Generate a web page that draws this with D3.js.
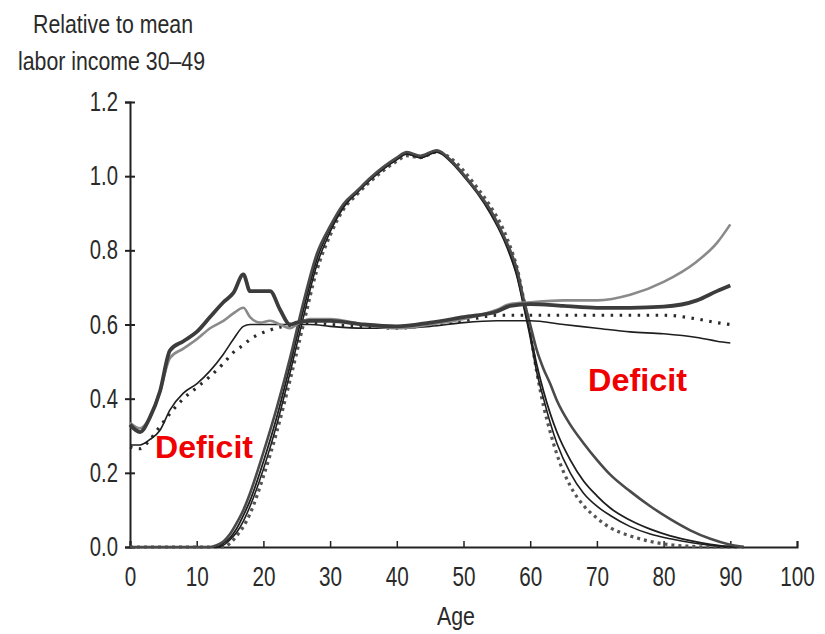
<!DOCTYPE html>
<html>
<head>
<meta charset="utf-8">
<script src="https://cdn.jsdelivr.net/npm/d3@7"></script>
<style>
  body { margin: 0; background: #fff; }
  text { font-family: "Liberation Sans", Arial, sans-serif; fill: #2a2a2a; }
</style>
</head>
<body>
<div id="chart"></div>
<script>
// ages for the consumption curves
var consAges = [0, 1.5, 3, 4.5, 6, 8, 10, 12, 14, 15.5, 17, 18, 19.5, 21, 22.5, 24, 25, 27, 30, 35, 40, 45, 50, 55, 57, 60, 65, 70, 75, 80, 85, 88, 90];
var consThick = [0.33, 0.31, 0.35, 0.42, 0.53, 0.555, 0.58, 0.62, 0.66, 0.685, 0.735, 0.69, 0.69, 0.69, 0.64, 0.60, 0.605, 0.61, 0.61, 0.60, 0.595, 0.605, 0.62, 0.635, 0.65, 0.655, 0.65, 0.645, 0.645, 0.648, 0.665, 0.69, 0.705];
var consGray  = [0.335, 0.32, 0.35, 0.42, 0.51, 0.535, 0.56, 0.59, 0.61, 0.63, 0.645, 0.62, 0.605, 0.61, 0.60, 0.59, 0.60, 0.615, 0.615, 0.60, 0.59, 0.60, 0.615, 0.64, 0.655, 0.66, 0.665, 0.665, 0.68, 0.715, 0.77, 0.82, 0.87];
var consThin  = [0.275, 0.275, 0.29, 0.315, 0.37, 0.415, 0.44, 0.475, 0.52, 0.56, 0.595, 0.60, 0.60, 0.60, 0.60, 0.60, 0.60, 0.60, 0.595, 0.59, 0.59, 0.595, 0.605, 0.61, 0.61, 0.61, 0.60, 0.59, 0.58, 0.575, 0.565, 0.555, 0.55];
var consDot   = [0.27, 0.265, 0.29, 0.325, 0.36, 0.40, 0.43, 0.46, 0.495, 0.525, 0.545, 0.56, 0.575, 0.585, 0.593, 0.595, 0.60, 0.605, 0.60, 0.595, 0.59, 0.60, 0.61, 0.625, 0.625, 0.625, 0.625, 0.625, 0.625, 0.625, 0.615, 0.605, 0.60];

// ages for the labor income curves
var laborAges = [0, 12, 13, 14, 15, 16, 17, 18, 20, 22, 24, 26, 28, 30, 32, 34, 36, 38, 40, 41.5, 43.5, 46, 48, 50, 52, 54, 56, 57, 58, 59, 60, 61, 62, 63, 64, 66, 68, 70, 72, 75, 78, 81, 84, 87, 90, 92];
var laborA = [0, 0, 0.005, 0.015, 0.035, 0.065, 0.1, 0.145, 0.255, 0.375, 0.51, 0.66, 0.79, 0.865, 0.925, 0.96, 0.995, 1.025, 1.05, 1.065, 1.055, 1.07, 1.045, 1.005, 0.96, 0.91, 0.84, 0.80, 0.75, 0.67, 0.60, 0.53, 0.48, 0.44, 0.395, 0.33, 0.28, 0.235, 0.195, 0.15, 0.11, 0.075, 0.045, 0.022, 0.006, 0];
var laborB = [0, 0, 0, 0.01, 0.025, 0.05, 0.085, 0.125, 0.23, 0.35, 0.49, 0.64, 0.775, 0.86, 0.92, 0.955, 0.99, 1.02, 1.045, 1.06, 1.05, 1.065, 1.045, 1.005, 0.96, 0.905, 0.835, 0.79, 0.735, 0.655, 0.575, 0.49, 0.42, 0.36, 0.31, 0.235, 0.178, 0.138, 0.105, 0.072, 0.048, 0.03, 0.017, 0.007, 0.001, 0];
var laborC = [0, 0, 0, 0.005, 0.02, 0.04, 0.07, 0.11, 0.21, 0.33, 0.47, 0.62, 0.76, 0.85, 0.915, 0.955, 0.99, 1.02, 1.045, 1.06, 1.05, 1.065, 1.04, 1.0, 0.955, 0.90, 0.83, 0.785, 0.73, 0.65, 0.565, 0.47, 0.40, 0.335, 0.28, 0.20, 0.145, 0.11, 0.085, 0.055, 0.035, 0.022, 0.012, 0.005, 0.001, 0];
var laborD = [0, 0, 0, 0, 0.01, 0.03, 0.055, 0.09, 0.19, 0.31, 0.45, 0.60, 0.745, 0.84, 0.91, 0.95, 0.985, 1.015, 1.04, 1.055, 1.05, 1.065, 1.05, 1.015, 0.97, 0.92, 0.855, 0.81, 0.755, 0.67, 0.58, 0.47, 0.38, 0.31, 0.25, 0.165, 0.112, 0.078, 0.052, 0.03, 0.015, 0.006, 0.002, 0, 0, 0];

var xTicks = [0, 10, 20, 30, 40, 50, 60, 70, 80, 90, 100];
var yTicks = [0, 0.2, 0.4, 0.6, 0.8, 1.0, 1.2];

var width = 825, height = 634;

var svg = d3.select("#chart")
  .append("svg")
    .attr("width", width)
    .attr("height", height);

var x = d3.scaleLinear().domain([0, 100]).range([130, 797]);
var y = d3.scaleLinear().domain([0, 1.2]).range([547, 102]);

// y axis, ticks crossing the line
var yAxis = svg.append("g")
  .attr("transform", "translate(" + x(0) + ",0)")
  .call(d3.axisLeft(y).tickValues(yTicks).tickFormat(d3.format(".1f")).tickSizeOuter(0).tickSize(5));
yAxis.select(".domain").attr("stroke", "#222").attr("stroke-width", 2);
yAxis.selectAll(".tick line").attr("x1", -5).attr("x2", 5).attr("stroke", "#222").attr("stroke-width", 2);
yAxis.selectAll(".tick text")
  .attr("x", 0)
  .attr("transform", "translate(-12,0) scale(0.75,1)")
  .style("font-size", "27px")
  .style("font-family", "Liberation Sans, Arial, sans-serif")
  .attr("fill", "#2a2a2a");

// x axis, ticks pointing up
var xAxis = svg.append("g")
  .attr("transform", "translate(0," + y(0) + ")")
  .call(d3.axisBottom(x).tickValues(xTicks).tickSizeOuter(0).tickSize(-6).tickPadding(0));
xAxis.select(".domain").attr("stroke", "#222").attr("stroke-width", 2);
xAxis.selectAll(".tick line").attr("stroke", "#222").attr("stroke-width", 1.5);
xAxis.selectAll(".tick text")
  .attr("y", 0)
  .attr("dy", 0)
  .attr("transform", "translate(0,39) scale(0.74,1)")
  .style("font-size", "28px")
  .style("font-family", "Liberation Sans, Arial, sans-serif")
  .attr("fill", "#2a2a2a");

// axis titles
svg.append("text")
  .attr("x", 33).attr("y", 33)
  .attr("textLength", 160).attr("lengthAdjust", "spacingAndGlyphs")
  .style("font-size", "25px")
  .text("Relative to mean");
svg.append("text")
  .attr("x", 18).attr("y", 70)
  .attr("textLength", 187).attr("lengthAdjust", "spacingAndGlyphs")
  .style("font-size", "25px")
  .text("labor income 30–49");
svg.append("text")
  .attr("x", 437).attr("y", 625)
  .attr("textLength", 38).attr("lengthAdjust", "spacingAndGlyphs")
  .style("font-size", "26px")
  .text("Age");

var line = d3.line()
  .x(function(d) { return x(d[0]); })
  .y(function(d) { return y(d[1]); })
  .curve(d3.curveMonotoneX);

function pairs(ages, vals) {
  return ages.map(function(a, i) { return [a, vals[i]]; });
}

// labor income curves
var laborSeries = [
  {vals: laborD, stroke: "#555", width: 3.2, dash: "3,4"},
  {vals: laborC, stroke: "#1e1e1e", width: 1.6, dash: null},
  {vals: laborB, stroke: "#1e1e1e", width: 1.8, dash: null},
  {vals: laborA, stroke: "#4a4a4a", width: 2.6, dash: null}
];
// consumption curves
var consSeries = [
  {vals: consDot, stroke: "#2a2a2a", width: 3.2, dash: "2.5,6.5"},
  {vals: consThin, stroke: "#1e1e1e", width: 1.6, dash: null},
  {vals: consGray, stroke: "#8a8a8a", width: 2.6, dash: null},
  {vals: consThick, stroke: "#3c3c3c", width: 3.8, dash: null}
];

laborSeries.forEach(function(s) {
  svg.append("path")
    .datum(pairs(laborAges, s.vals))
    .attr("d", line)
    .attr("fill", "none")
    .attr("stroke", s.stroke)
    .attr("stroke-width", s.width)
    .attr("stroke-dasharray", s.dash)
    .attr("stroke-linejoin", "round");
});

consSeries.forEach(function(s) {
  svg.append("path")
    .datum(pairs(consAges, s.vals))
    .attr("d", line)
    .attr("fill", "none")
    .attr("stroke", s.stroke)
    .attr("stroke-width", s.width)
    .attr("stroke-dasharray", s.dash)
    .attr("stroke-linejoin", "round");
});

// red annotations
svg.append("text")
  .attr("x", 155).attr("y", 458)
  .attr("textLength", 98).attr("lengthAdjust", "spacingAndGlyphs")
  .style("font-size", "32px").style("font-weight", "bold")
  .style("fill", "#f00000")
  .text("Deficit");
svg.append("text")
  .attr("x", 588).attr("y", 391)
  .attr("textLength", 99).attr("lengthAdjust", "spacingAndGlyphs")
  .style("font-size", "32px").style("font-weight", "bold")
  .style("fill", "#f00000")
  .text("Deficit");
</script>
</body>
</html>
